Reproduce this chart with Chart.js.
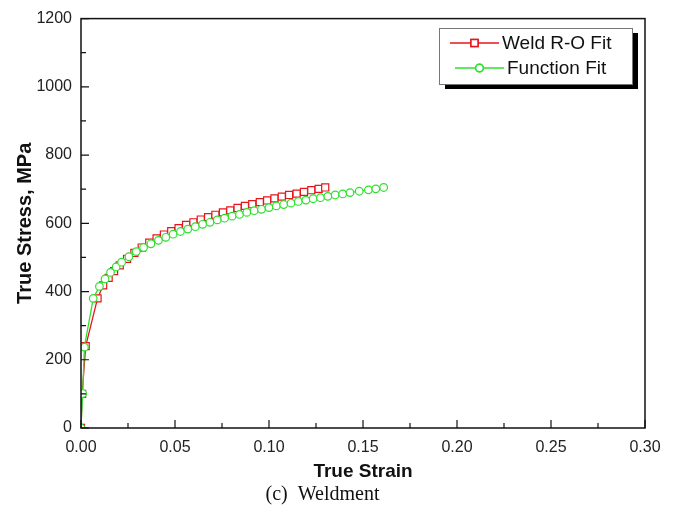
<!DOCTYPE html>
<html>
<head>
<meta charset="utf-8">
<script src="https://cdn.jsdelivr.net/npm/chart.js@4.4.1/dist/chart.umd.min.js"></script>
<style>
  html, body { margin: 0; padding: 0; background: #fff; }
  canvas { display: block; }
</style>
</head>
<body>
<canvas id="stress" width="679" height="508"></canvas>
<script>
// values
const weldStrain = [0, 0.0006, 0.0025, 0.0088, 0.0118, 0.0147, 0.0176, 0.0206, 0.0245, 0.0284,
  0.0323, 0.0363, 0.0402, 0.0441, 0.048, 0.0519, 0.0559, 0.0598, 0.0637, 0.0676,
  0.0715, 0.0755, 0.0794, 0.0833, 0.0872, 0.0911, 0.0951, 0.099, 0.1029, 0.1068,
  0.1107, 0.1147, 0.1186, 0.1225, 0.1264, 0.1299];
const weldStress = [0, 100, 240, 380, 418, 440, 460, 477, 496, 513,
  529, 543, 556, 567, 577, 586, 595, 603, 611, 618,
  625, 632, 638, 645, 651, 656, 662, 667, 673, 678,
  683, 687, 692, 697, 701, 705];
const funcStrain = [0, 0.0009, 0.0018, 0.0065, 0.0098, 0.0128, 0.0157, 0.0187, 0.0216, 0.0255,
  0.0294, 0.0333, 0.0372, 0.0412, 0.0451, 0.049, 0.0529, 0.0568, 0.0608, 0.0647,
  0.0686, 0.0725, 0.0764, 0.0804, 0.0843, 0.0882, 0.0921, 0.096, 0.1, 0.1039,
  0.1078, 0.1117, 0.1156, 0.1196, 0.1235, 0.1274, 0.1313, 0.1352, 0.1392, 0.1431,
  0.148, 0.1529, 0.1568, 0.161];
const funcStress = [0, 101, 237, 380, 415, 437, 456, 472, 486, 502,
  517, 529, 540, 550, 559, 568, 576, 583, 590, 597,
  603, 610, 615, 621, 626, 632, 637, 641, 646, 651,
  655, 659, 664, 668, 672, 675, 679, 683, 686, 690,
  694, 698, 701, 705];
const seriesNames = ["Weld R-O Fit", "Function Fit"];
const xTickLabels = ["0.00", "0.05", "0.10", "0.15", "0.20", "0.25", "0.30"];
const yTickLabels = ["0", "200", "400", "600", "800", "1000", "1200"];

const RED = "#e8141c";
const GREEN = "#2ee02e";

function toPoints(xs, ys) {
  return xs.map((x, i) => ({ x: x, y: ys[i] }));
}

// axis frame with inward major/minor ticks, like the original plot
const frameTicks = {
  id: "frameTicks",
  afterDatasetsDraw(chart) {
    const ctx = chart.ctx;
    const a = chart.chartArea;
    const xs = chart.scales.x;
    const ys = chart.scales.y;
    ctx.save();
    ctx.strokeStyle = "#111";
    ctx.lineWidth = 1.5;
    ctx.strokeRect(a.left, a.top, a.right - a.left, a.bottom - a.top);
    ctx.lineWidth = 1.2;
    ctx.beginPath();
    xs.ticks.forEach((t, i) => {
      const px = xs.getPixelForValue(t.value);
      ctx.moveTo(px, a.bottom);
      ctx.lineTo(px, a.bottom - 8);
      if (i < xs.ticks.length - 1) {
        const mid = xs.getPixelForValue((t.value + xs.ticks[i + 1].value) / 2);
        ctx.moveTo(mid, a.bottom);
        ctx.lineTo(mid, a.bottom - 5);
      }
    });
    ys.ticks.forEach((t, i) => {
      const py = ys.getPixelForValue(t.value);
      ctx.moveTo(a.left, py);
      ctx.lineTo(a.left + 8, py);
      if (i < ys.ticks.length - 1) {
        const mid = ys.getPixelForValue((t.value + ys.ticks[i + 1].value) / 2);
        ctx.moveTo(a.left, mid);
        ctx.lineTo(a.left + 5, mid);
      }
    });
    ctx.stroke();
    ctx.restore();
  }
};

// boxed legend with a drop shadow
const shadowLegend = {
  id: "shadowLegend",
  afterDraw(chart) {
    const ctx = chart.ctx;
    const bx = 439, by = 28, bw = 193, bh = 56;
    ctx.save();
    ctx.fillStyle = "#000";
    ctx.fillRect(bx + 6, by + 5, bw, bh);
    ctx.fillStyle = "#fff";
    ctx.fillRect(bx, by, bw, bh);
    ctx.strokeStyle = "#777";
    ctx.lineWidth = 1;
    ctx.strokeRect(bx + 0.5, by + 0.5, bw, bh);
    const order = [0, 1];
    order.forEach((di, row) => {
      const ds = chart.data.datasets[di];
      const y = by + 15 + row * 25;
      const x0 = bx + 11 + row * 5, x1 = x0 + 49;
      ctx.strokeStyle = ds.borderColor;
      ctx.lineWidth = 1.5;
      ctx.beginPath();
      ctx.moveTo(x0, y);
      ctx.lineTo(x1, y);
      ctx.stroke();
      Chart.helpers.drawPoint(ctx, {
        pointStyle: ds.pointStyle,
        radius: ds.pointRadius,
        borderWidth: ds.pointBorderWidth,
        rotation: 0
      }, (x0 + x1) / 2, y);
      ctx.fillStyle = "#fff";
      ctx.fill();
      ctx.stroke();
      ctx.fillStyle = "#111";
      ctx.font = "19px 'Liberation Sans', Arial, sans-serif";
      ctx.textBaseline = "middle";
      ctx.textAlign = "left";
      ctx.fillText(ds.label, x1 + 3, y + 1);
    });
    ctx.restore();
  }
};

const stressChart = new Chart(document.getElementById("stress"), {
  type: "scatter",
  data: {
    datasets: [
      {
        label: seriesNames[0],
        data: toPoints(weldStrain, weldStress),
        showLine: true,
        borderColor: RED,
        backgroundColor: "#fff",
        borderWidth: 1.3,
        pointStyle: "rect",
        pointRadius: 5,
        pointBorderWidth: 1.2,
        pointBorderColor: RED,
        pointBackgroundColor: "#fff",
        order: 2
      },
      {
        label: seriesNames[1],
        data: toPoints(funcStrain, funcStress),
        showLine: true,
        borderColor: GREEN,
        backgroundColor: "#fff",
        borderWidth: 1.3,
        pointStyle: "circle",
        pointRadius: 3.8,
        pointBorderWidth: 1.2,
        pointBorderColor: GREEN,
        pointBackgroundColor: "#fff",
        order: 1
      }
    ]
  },
  options: {
    responsive: false,
    animation: false,
    layout: { padding: { top: 13, right: 34, left: 0, bottom: 0 } },
    plugins: {
      legend: { display: false },
      tooltip: { enabled: false },
      title: {
        display: true,
        position: "bottom",
        text: "(c)  Weldment",
        color: "#111",
        font: { family: "'Liberation Serif', 'Times New Roman', serif", size: 20, weight: "normal" },
        padding: { top: 0, bottom: 1 }
      }
    },
    scales: {
      x: {
        type: "linear",
        min: 0,
        max: 0.3,
        afterFit(scale) { scale.height = 55; },
        grid: { display: false, drawTicks: false, tickLength: 0 },
        border: { display: false },
        ticks: {
          stepSize: 0.05,
          padding: 10,
          color: "#222",
          font: { family: "'Liberation Sans', Arial, sans-serif", size: 16 },
          maxRotation: 0,
          callback: (v, i) => xTickLabels[i]
        },
        title: {
          display: true,
          text: "True Strain",
          color: "#111",
          font: { family: "'Liberation Sans', Arial, sans-serif", size: 19, weight: "bold" },
          padding: { top: 0, bottom: 0 }
        }
      },
      y: {
        min: 0,
        max: 1200,
        afterFit(scale) { scale.width = 81; },
        grid: { display: false, drawTicks: false, tickLength: 0 },
        border: { display: false },
        ticks: {
          stepSize: 200,
          padding: 9,
          color: "#222",
          font: { family: "'Liberation Sans', Arial, sans-serif", size: 16 },
          callback: (v, i) => yTickLabels[i]
        },
        title: {
          display: true,
          text: "True Stress, MPa",
          color: "#111",
          font: { family: "'Liberation Sans', Arial, sans-serif", size: 20, weight: "bold" },
          padding: { top: 13, bottom: 0 }
        }
      }
    }
  },
  plugins: [frameTicks, shadowLegend]
});
</script>
</body>
</html>
